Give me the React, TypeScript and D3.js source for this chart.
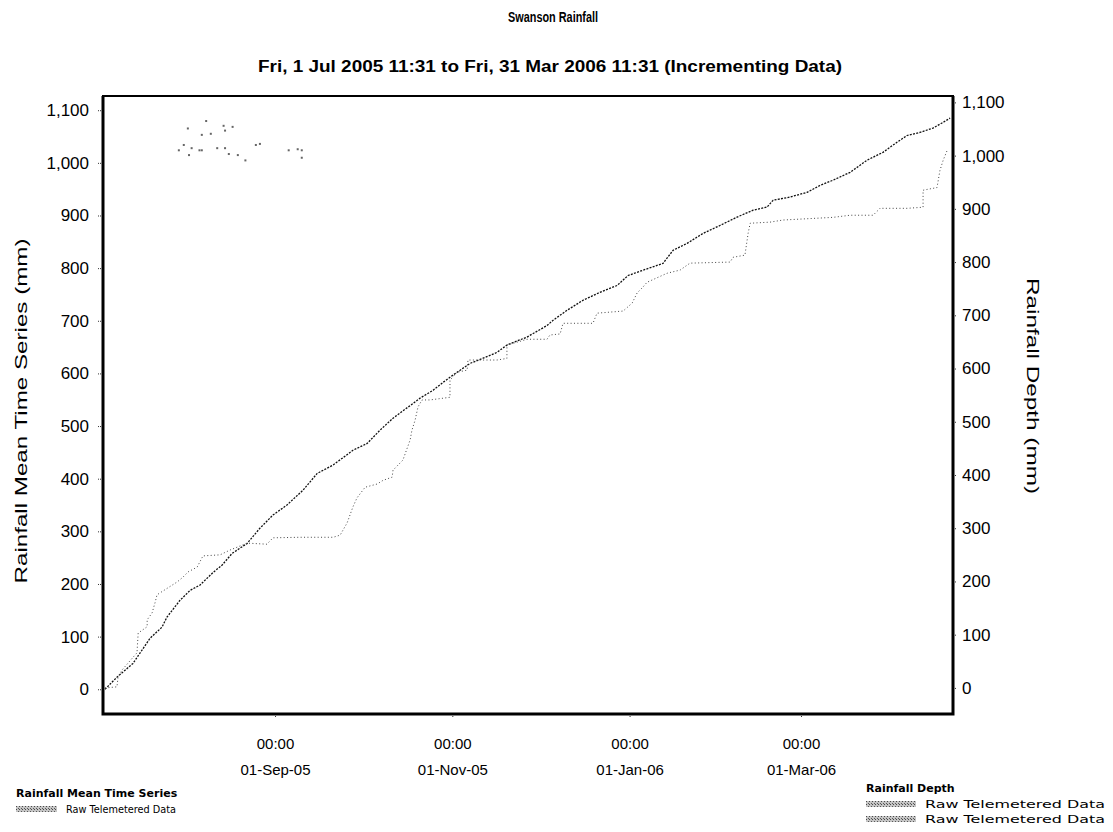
import React, { useEffect, useRef } from 'react';
import * as d3 from 'd3';

// Time is kept as days after 1 Jul 2005 00:00
const BASE = new Date(2005, 6, 1);
const VIEW_START_DAY = 2.8;
const VIEW_END_DAY = 295.3;

// Rainfall Mean Time Series (left axis)
const meanDays = [3.5, 7.6, 13.1, 19.0, 23.1, 24.8, 29.3, 32.8, 36.2, 40.7, 43.8, 47.2, 52.4, 56.8, 61.3, 66.1, 71.6, 76.5, 82.0, 88.8, 93.7, 98.1, 102.6, 109.5, 111.9, 116.4, 119.8, 123.3, 129.1, 133.6, 138.4, 141.8, 148.7, 155.6, 157.7, 162.5, 168.0, 173.8, 179.7, 183.5, 188.6, 195.5, 199.0, 203.8, 209.3, 215.1, 221.0, 226.5, 231.3, 233.4, 239.2, 245.1, 249.5, 254.0, 259.9, 265.7, 271.2, 276.0, 279.5, 284.0, 288.4, 291.9, 294.3];
const meanValues = [0, 23, 49, 97, 118, 137, 169, 188, 198, 222, 236, 258, 277, 306, 331, 350, 378, 410, 426, 454, 467, 492, 515, 543, 553, 568, 583, 597, 619, 629, 640, 654, 669, 691, 701, 720, 739, 754, 767, 786, 796, 809, 834, 847, 866, 881, 897, 910, 916, 929, 935, 944, 957, 967, 982, 1005, 1020, 1039, 1052, 1058, 1066, 1077, 1085];

// Rainfall Depth, raw telemetered (right axis)
const depthDays = [3.5, 7.6, 8.0, 9.4, 14.5, 14.9, 18.0, 18.0, 19.7, 20.7, 21.4, 28.3, 30.3, 32.1, 35.2, 37.2, 43.1, 46.5, 52.4, 59.2, 61.3, 70.6, 82.0, 84.4, 86.8, 87.8, 88.8, 90.2, 93.0, 97.1, 99.2, 102.3, 102.6, 106.0, 108.5, 109.1, 110.2, 111.2, 112.6, 115.3, 122.2, 122.2, 124.6, 128.1, 128.4, 138.4, 141.8, 141.8, 148.7, 155.6, 156.6, 160.1, 161.1, 171.4, 172.8, 181.8, 184.9, 186.6, 188.6, 190.0, 196.9, 201.4, 204.8, 218.6, 219.6, 223.7, 224.8, 225.5, 232.3, 236.8, 247.1, 254.0, 259.9, 267.8, 270.2, 279.5, 285.0, 285.0, 289.8, 290.8, 291.9, 293.3];
const depthValues = [0, 2, 21, 34, 66, 103, 115, 128, 141, 160, 175, 199, 208, 218, 227, 248, 250, 259, 272, 270, 282, 283, 283, 287, 310, 325, 340, 357, 377, 383, 390, 396, 409, 428, 466, 484, 503, 528, 541, 541, 546, 578, 593, 597, 616, 616, 619, 644, 655, 655, 663, 665, 685, 685, 704, 708, 723, 742, 753, 762, 779, 785, 798, 800, 809, 813, 854, 873, 875, 879, 882, 884, 888, 888, 901, 901, 903, 935, 940, 972, 991, 1010];

// Rainfall Depth, second raw telemetered series (right axis)
const scatterDays = [38.3, 32.0, 44.3, 44.8, 47.4, 36.8, 39.9, 30.6, 28.9, 33.3, 32.4, 36.0, 36.8, 42.1, 44.8, 46.1, 49.2, 51.8, 55.4, 56.8, 66.7, 69.8, 71.2, 71.2];
const scatterValues = [1065, 1051, 1056, 1047, 1054, 1039, 1041, 1020, 1010, 1014, 1001, 1010, 1010, 1014, 1014, 1003, 1001, 991, 1020, 1022, 1010, 1012, 1010, 996];

const yTicks = [0, 100, 200, 300, 400, 500, 600, 700, 800, 900, 1000, 1100];
const xTickDates = [new Date(2005, 8, 1), new Date(2005, 10, 1), new Date(2006, 0, 1), new Date(2006, 2, 1)];

const dayToDate = (d: number) => new Date(BASE.getTime() + d * 864e5);

const App = () => {
    const ref = useRef<SVGSVGElement>(null);

    useEffect(() => {
        const svg = d3.select(ref.current);
        svg.selectAll('*').remove();

        const W = 1113, H = 832;
        const plot = { left: 103, right: 953, top: 96, bottom: 714 };
        const font = 'Arial, "Liberation Sans", sans-serif';
        const legendFont = 'Verdana, "DejaVu Sans", sans-serif';

        svg.append('rect').attr('width', W).attr('height', H).attr('fill', '#fff');

        const x = d3.scaleTime()
            .domain([dayToDate(VIEW_START_DAY), dayToDate(VIEW_END_DAY)])
            .range([plot.left, plot.right]);
        const yLeft = d3.scaleLinear().domain([-47, 1127]).range([plot.bottom, plot.top]);
        const yRight = d3.scaleLinear().domain([-49, 1112]).range([plot.bottom, plot.top]);

        // Pattern for legend swatches
        const defs = svg.append('defs');
        const pat = defs.append('pattern').attr('id', 'swatch').attr('width', 3).attr('height', 3)
            .attr('patternUnits', 'userSpaceOnUse');
        pat.append('rect').attr('width', 3).attr('height', 3).attr('fill', '#c4c4c4');
        pat.append('rect').attr('width', 1).attr('height', 1).attr('fill', '#4a4a4a');
        pat.append('rect').attr('x', 2).attr('y', 2).attr('width', 1).attr('height', 1).attr('fill', '#5a5a5a');

        // Titles
        svg.append('text').attr('x', 553).attr('y', 22).attr('text-anchor', 'middle')
            .attr('font-family', font).attr('font-weight', 'bold').attr('font-size', 14)
            .attr('textLength', 90).attr('lengthAdjust', 'spacingAndGlyphs')
            .text('Swanson Rainfall');
        svg.append('text').attr('x', 550).attr('y', 72).attr('text-anchor', 'middle')
            .attr('font-family', font).attr('font-weight', 'bold').attr('font-size', 16)
            .attr('textLength', 584).attr('lengthAdjust', 'spacingAndGlyphs')
            .text('Fri, 1 Jul 2005 11:31 to Fri, 31 Mar 2006 11:31 (Incrementing Data)');

        // Axes
        const leftAxis = svg.append('g').attr('transform', `translate(${plot.left},0)`)
            .call(d3.axisLeft(yLeft).tickValues(yTicks).tickFormat(d3.format(',')).tickSize(5).tickPadding(9));
        const rightAxis = svg.append('g').attr('transform', `translate(${plot.right},0)`)
            .call(d3.axisRight(yRight).tickValues(yTicks).tickFormat(d3.format(',')).tickSize(4).tickPadding(5));
        const bottomAxis = svg.append('g').attr('transform', `translate(0,${plot.bottom})`)
            .call(d3.axisBottom(x).tickValues(xTickDates).tickFormat(() => '').tickSize(4));

        [leftAxis, rightAxis, bottomAxis].forEach(g => {
            g.select('.domain').remove();
            g.selectAll('.tick line').attr('stroke', '#333').attr('stroke-dasharray', '1 1');
            g.selectAll('.tick text').attr('font-family', font).attr('font-size', 17).attr('fill', '#000');
        });

        const fmtDate = d3.timeFormat('%d-%b-%y');
        bottomAxis.selectAll('.tick').each(function (d: any) {
            const t = d3.select(this).select('text');
            t.text(null).attr('y', 0).attr('dy', null).attr('font-size', 15);
            t.append('tspan').attr('x', 0).attr('y', 35).text(d3.timeFormat('%H:%M')(d));
            t.append('tspan').attr('x', 0).attr('y', 61).text(fmtDate(d));
        });

        // Axis titles
        svg.append('text')
            .attr('transform', 'translate(27,411) rotate(-90)')
            .attr('text-anchor', 'middle').attr('font-family', font).attr('font-size', 17)
            .attr('textLength', 345).attr('lengthAdjust', 'spacingAndGlyphs')
            .text('Rainfall Mean Time Series (mm)');
        svg.append('text')
            .attr('transform', 'translate(1027,386) rotate(90)')
            .attr('text-anchor', 'middle').attr('font-family', font).attr('font-size', 17)
            .attr('textLength', 216).attr('lengthAdjust', 'spacingAndGlyphs')
            .text('Rainfall Depth (mm)');

        // Series
        const meanLine = d3.line<number>()
            .x((_, i) => x(dayToDate(meanDays[i])))
            .y(d => yLeft(d));
        svg.append('path').datum(meanValues).attr('d', meanLine)
            .attr('fill', 'none').attr('stroke', '#111').attr('stroke-width', 1.3)
            .attr('stroke-dasharray', '2 1.3');

        const depthLine = d3.line<number>()
            .x((_, i) => x(dayToDate(depthDays[i])))
            .y(d => yRight(d));
        svg.append('path').datum(depthValues).attr('d', depthLine)
            .attr('fill', 'none').attr('stroke', '#444').attr('stroke-width', 1)
            .attr('stroke-dasharray', '1 2.4');

        svg.append('g').selectAll('rect')
            .data(scatterValues)
            .enter()
            .append('rect')
            .attr('x', (_, i) => x(dayToDate(scatterDays[i])) - 1)
            .attr('y', d => yRight(d) - 1)
            .attr('width', 2).attr('height', 2)
            .attr('fill', '#666');

        // Plot frame
        svg.append('rect').attr('x', plot.left).attr('y', plot.top)
            .attr('width', plot.right - plot.left).attr('height', plot.bottom - plot.top)
            .attr('fill', 'none').attr('stroke', '#000').attr('stroke-width', 2);
        svg.append('path')
            .attr('d', `M${plot.left},${plot.top} V${plot.bottom} H${plot.right} V${plot.top}`)
            .attr('fill', 'none').attr('stroke', '#000').attr('stroke-width', 3);

        // Legends
        const legend = (lx: number, ly: number, title: string, rows: number, swatchW: number, textW: number) => {
            const g = svg.append('g').attr('transform', `translate(${lx},${ly})`);
            g.append('text').attr('font-family', legendFont).attr('font-weight', 'bold')
                .attr('font-size', 11).text(title);
            for (let i = 0; i < rows; i++) {
                g.append('rect').attr('x', 0).attr('y', 9 + i * 15).attr('width', swatchW).attr('height', 6)
                    .attr('fill', 'url(#swatch)');
                g.append('text').attr('x', swatchW + 9).attr('y', 16 + i * 15)
                    .attr('font-family', legendFont).attr('font-size', 10)
                    .attr('textLength', textW).attr('lengthAdjust', 'spacingAndGlyphs')
                    .text('Raw Telemetered Data');
            }
        };
        legend(16, 797, 'Rainfall Mean Time Series', 1, 41, 110);
        legend(866, 792, 'Rainfall Depth', 2, 50, 180);
    }, []);

    return (
        <svg ref={ref} width={1113} height={832}
            style={{ position: 'absolute', left: 0, top: 0, display: 'block' }} />
    );
};

export default App;
